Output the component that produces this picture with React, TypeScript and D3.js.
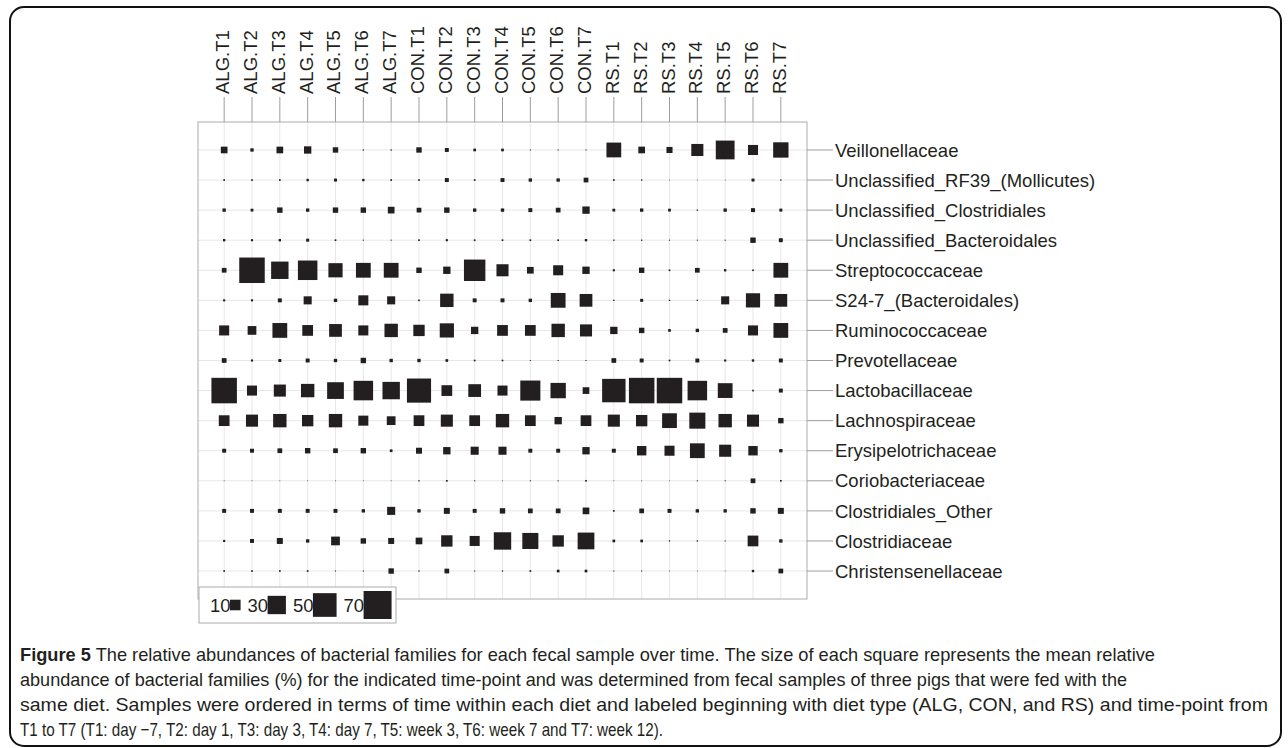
import React from "react";
import * as d3 from "d3";

// Samples (columns), diet + time-point
const samples = [
  "ALG.T1", "ALG.T2", "ALG.T3", "ALG.T4", "ALG.T5", "ALG.T6", "ALG.T7",
  "CON.T1", "CON.T2", "CON.T3", "CON.T4", "CON.T5", "CON.T6", "CON.T7",
  "RS.T1", "RS.T2", "RS.T3", "RS.T4", "RS.T5", "RS.T6", "RS.T7",
];

// Bacterial families (rows, top to bottom)
const families = [
  "Veillonellaceae",
  "Unclassified_RF39_(Mollicutes)",
  "Unclassified_Clostridiales",
  "Unclassified_Bacteroidales",
  "Streptococcaceae",
  "S24-7_(Bacteroidales)",
  "Ruminococcaceae",
  "Prevotellaceae",
  "Lactobacillaceae",
  "Lachnospiraceae",
  "Erysipelotrichaceae",
  "Coriobacteriaceae",
  "Clostridiales_Other",
  "Clostridiaceae",
  "Christensenellaceae",
];

// Mean relative abundance (%) per sample, one array per family
const veillonellaceae = [4, 1, 4, 4.8, 2.6, 0.15, 0.15, 2.6, 1.4, 0.65, 0.65, 0.1, 0.1, 0.1, 19.5, 4, 3.3, 13, 31.5, 9, 21];
const unclassifiedRF39 = [0.25, 0.25, 0.25, 0.5, 0.8, 0.5, 0.25, 0.25, 1.4, 0.25, 1.4, 1, 1, 2, 0.25, 0.15, 0.05, 0.05, 0.05, 0.8, 0.15];
const unclassifiedClostridiales = [1, 0.7, 2.6, 1, 2.6, 2.6, 4, 2, 2.6, 1, 1, 1.4, 2, 4.8, 0.7, 1, 0.7, 0.15, 1, 1.4, 0.8];
const unclassifiedBacteroidales = [0.5, 0.4, 0.5, 0.8, 0.25, 0.1, 0.1, 0.25, 0.4, 0.25, 0.25, 0.25, 0.25, 0.5, 0.15, 0.15, 0.1, 0.1, 0.1, 2.6, 1.4];
const streptococcaceae = [2, 58, 27, 34, 18, 19.5, 19.5, 2.6, 4.8, 41, 13, 4, 9, 4.8, 0.4, 2.6, 0.25, 2, 0.5, 0.25, 19.5];
const s24_7 = [0.4, 0.4, 1.4, 5.8, 1, 9, 5.8, 0.25, 16, 1.4, 1.4, 1, 19.5, 14.5, 0.15, 0.8, 0.15, 0.15, 5.8, 18, 14.5];
const ruminococcaceae = [9, 6.8, 19.5, 10.3, 14.5, 9, 16, 11.5, 18, 4.8, 10.3, 10.3, 16, 13, 4.8, 2.6, 0.65, 1, 2, 9, 19.5];
const prevotellaceae = [2, 0.4, 0.8, 1.4, 1, 2.6, 1, 1, 0.65, 0.25, 0.25, 0.1, 0.1, 0.1, 2, 1.4, 0.25, 1.4, 0.4, 0.5, 1.4];
const lactobacillaceae = [58, 9, 13, 16, 25, 34, 27, 52, 10.3, 14.5, 9, 36, 21, 4, 49, 58, 58, 34, 19.5, 0.25, 1.4];
const lachnospiraceae = [10.3, 13, 16, 11.5, 16, 9, 6.8, 10.3, 13, 10.3, 16, 10.3, 4.8, 10.3, 13, 11.5, 19.5, 23, 16, 13, 2.6];
const erysipelotrichaceae = [1.4, 1.4, 2, 2.6, 2, 2.6, 0.65, 3.2, 4.8, 5.8, 5.8, 1.4, 1.4, 4.8, 1.4, 7.9, 9, 19.5, 13, 7.9, 1];
const coriobacteriaceae = [0.05, 0.05, 0.05, 0.05, 0.05, 0.05, 0.05, 0.15, 0.25, 0.1, 0.05, 0.1, 0.1, 0.25, 0.05, 0.05, 0.05, 0.1, 0.1, 2, 0.25];
const clostridialesOther = [1.4, 1.4, 1.4, 1.4, 1.4, 1, 5.8, 1, 3.2, 1.4, 2.6, 2, 2, 4, 0.25, 2, 1.4, 1, 1, 2.6, 3.2];
const clostridiaceae = [0.4, 1.4, 3.2, 1, 6.8, 2.6, 3.2, 4, 11.5, 9, 27, 23, 11.5, 25, 0.65, 0.65, 0.15, 0.15, 0.1, 10.3, 1];
const christensenellaceae = [0.25, 0.25, 0.25, 0.25, 0.1, 0.1, 2.6, 0.15, 2, 0.1, 0.15, 0.25, 0.65, 0.65, 0.1, 0.1, 0.05, 0.05, 0.05, 0.5, 2];

const legendValues = [10, 30, 50, 70];

const captionTitle = "Figure 5";
const captionFirst =
  " The relative abundances of bacterial families for each fecal sample over time. The size of each square represents the mean relative";
const captionLines = [
  "abundance of bacterial families (%) for the indicated time-point and was determined from fecal samples of three pigs that were fed with the",
  "same diet. Samples were ordered in terms of time within each diet and labeled beginning with diet type (ALG, CON, and RS) and time-point from",
  "T1 to T7 (T1: day \u22127, T2: day 1, T3: day 3, T4: day 7, T5: week 3, T6: week 7 and T7: week 12).",
];

const rows = [
  veillonellaceae, unclassifiedRF39, unclassifiedClostridiales, unclassifiedBacteroidales,
  streptococcaceae, s24_7, ruminococcaceae, prevotellaceae, lactobacillaceae, lachnospiraceae,
  erysipelotrichaceae, coriobacteriaceae, clostridialesOther, clostridiaceae, christensenellaceae,
];

const W = 1288;
const H = 748;
const panel = { left: 198, top: 122, right: 807, bottom: 599 };
const INK = "#231f20";
const labelFont = "'Liberation Sans', Arial, Helvetica, sans-serif";
const captionFont = "'Liberation Sans', Arial, sans-serif";

export default function App() {
  const x = d3.scalePoint<string>().domain(samples).range([panel.left, panel.right]).padding(0.94);
  const y = d3.scalePoint<string>().domain(families).range([panel.top, panel.bottom]).padding(0.93);
  const side = d3.scaleSqrt().domain([0, 70]).range([0, 28]);

  const cells = families.flatMap((fam, i) =>
    samples.map((s, j) => ({ fam, s, v: rows[i][j] }))
  );

  // Legend layout: label followed by its square
  const legendDigitW = 20;
  let cursor = 210;
  const legendItems = legendValues.map((v) => {
    const tx = cursor;
    const sx = cursor + legendDigitW;
    const s = side(v);
    cursor = sx + s + 7;
    return { v, tx, sx, s };
  });

  const captionX = 20;
  const captionEnds = [1127, 1268, 663];

  return (
    <svg
      width={W}
      height={H}
      viewBox={`0 0 ${W} ${H}`}
      style={{ position: "absolute", left: 0, top: 0, background: "#fff" }}
    >
      <rect x={0} y={0} width={W} height={H} fill="#fff" />
      {/* figure frame */}
      <rect x={10} y={7} width={1271} height={739} rx={14} ry={14} fill="none" stroke="#111" strokeWidth={2} />

      {/* panel gridlines */}
      <g stroke="#e7e7e7" strokeWidth={1}>
        {samples.map((s) => (
          <line key={"gx" + s} x1={x(s)} x2={x(s)} y1={panel.top} y2={panel.bottom} />
        ))}
        {families.map((f) => (
          <line key={"gy" + f} x1={panel.left} x2={panel.right} y1={y(f)} y2={y(f)} />
        ))}
      </g>

      {/* abundance squares */}
      <g fill={INK}>
        {cells.map((c) => {
          const s = side(c.v);
          return (
            <rect
              key={c.fam + c.s}
              x={(x(c.s) as number) - s / 2}
              y={(y(c.fam) as number) - s / 2}
              width={s}
              height={s}
            />
          );
        })}
      </g>

      <rect
        x={panel.left}
        y={panel.top}
        width={panel.right - panel.left}
        height={panel.bottom - panel.top}
        fill="none"
        stroke="#ababab"
        strokeWidth={1}
      />

      {/* top axis: sample labels */}
      <g>
        {samples.map((s) => (
          <g key={"tx" + s}>
            <line x1={x(s)} x2={x(s)} y1={97} y2={panel.top} stroke="#9d9d9d" strokeWidth={1} />
            <text
              transform={`translate(${(x(s) as number) + 5},94) rotate(-90)`}
              fontFamily={labelFont}
              fontSize={18.5}
              fill={INK}
            >
              {s}
            </text>
          </g>
        ))}
      </g>

      {/* right axis: family labels */}
      <g>
        {families.map((f) => (
          <g key={"ty" + f}>
            <line x1={panel.right} x2={833} y1={y(f)} y2={y(f)} stroke="#9d9d9d" strokeWidth={1} />
            <text x={835} y={y(f)} dy="0.36em" fontFamily={labelFont} fontSize={18.5} fill={INK}>
              {f}
            </text>
          </g>
        ))}
      </g>

      {/* size legend */}
      <g>
        <rect x={199} y={587} width={197} height={36} fill="#fff" stroke="#ababab" strokeWidth={1} />
        {legendItems.map((it) => (
          <g key={"lg" + it.v}>
            <text x={it.tx} y={612} fontFamily={labelFont} fontSize={18.5} fill={INK}>
              {it.v}
            </text>
            <rect x={it.sx} y={605 - it.s / 2} width={it.s} height={it.s} fill={INK} />
          </g>
        ))}
      </g>

      {/* caption */}
      <g fontFamily={captionFont} fontSize={18.5} fill={INK}>
        <text x={captionX} y={661} textLength={1155 - captionX} lengthAdjust="spacingAndGlyphs">
          <tspan fontWeight="bold">{captionTitle}</tspan>
          <tspan>{captionFirst}</tspan>
        </text>
        {captionLines.map((line, i) => (
          <text
            key={"cap" + i}
            x={captionX}
            y={686 + i * 25}
            textLength={captionEnds[i] - captionX}
            lengthAdjust="spacingAndGlyphs"
          >
            {line}
          </text>
        ))}
      </g>
    </svg>
  );
}
